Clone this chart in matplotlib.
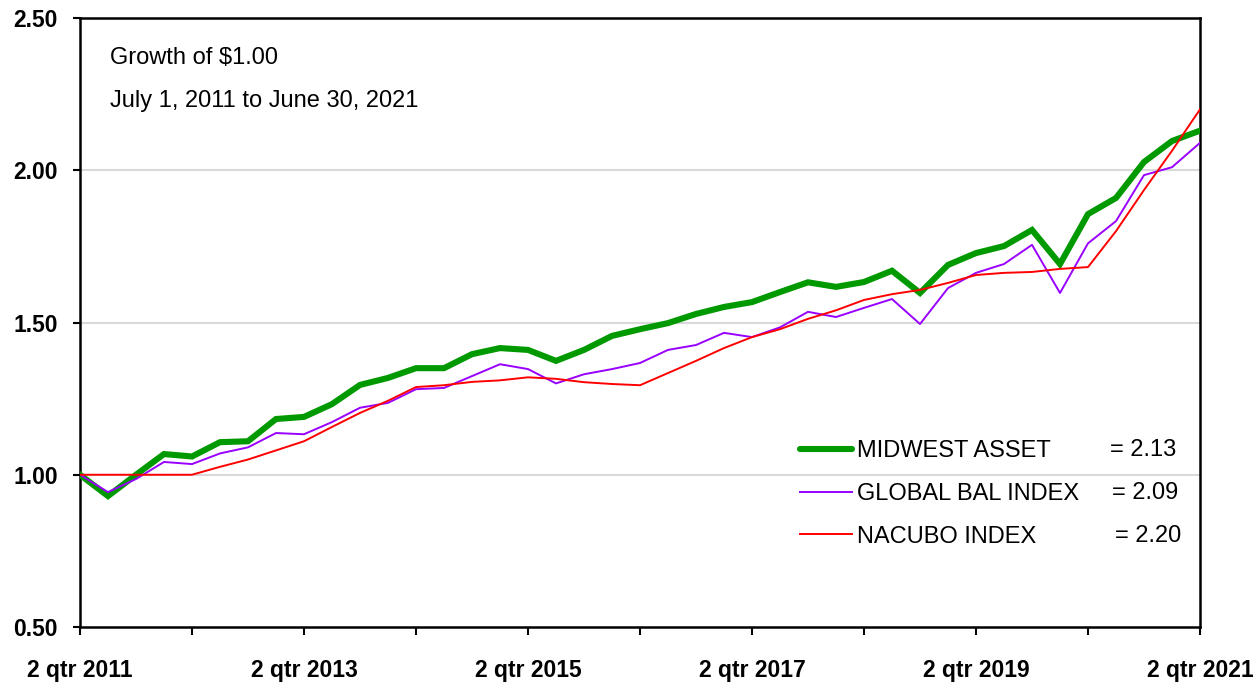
import matplotlib
matplotlib.use("Agg")
import matplotlib.pyplot as plt
from matplotlib.lines import Line2D

# ---- data ----
tick_labels = ["2 qtr 2011", "", "2 qtr 2013", "", "2 qtr 2015", "",
               "2 qtr 2017", "", "2 qtr 2019", "", "2 qtr 2021"]
series_names = ["MIDWEST ASSET", "GLOBAL BAL INDEX", "NACUBO INDEX"]

midwest = [1.00, 0.93, 1.00, 1.068, 1.06, 1.107, 1.11, 1.183, 1.19, 1.232,
           1.295, 1.318, 1.35, 1.35, 1.396, 1.416, 1.41, 1.374, 1.41, 1.456,
           1.478, 1.498, 1.528, 1.551, 1.567, 1.60, 1.632, 1.617, 1.633, 1.67,
           1.597, 1.689, 1.728, 1.751, 1.804, 1.692, 1.856, 1.909, 2.027, 2.096,
           2.13]
global_bal = [1.00, 0.943, 0.986, 1.042, 1.035, 1.07, 1.09, 1.137, 1.133, 1.173,
              1.22, 1.236, 1.281, 1.285, 1.324, 1.363, 1.347, 1.30, 1.33, 1.347,
              1.367, 1.41, 1.426, 1.466, 1.452, 1.484, 1.535, 1.518, 1.548, 1.577,
              1.495, 1.613, 1.663, 1.692, 1.755, 1.597, 1.76, 1.833, 1.984, 2.01,
              2.09]
nacubo = [1.00, 1.00, 1.00, 1.00, 1.00, 1.026, 1.05, 1.08, 1.11, 1.157,
          1.203, 1.243, 1.288, 1.294, 1.305, 1.31, 1.32, 1.315, 1.304, 1.298,
          1.294, 1.334, 1.374, 1.416, 1.452, 1.478, 1.512, 1.54, 1.574, 1.593,
          1.607, 1.63, 1.656, 1.663, 1.666, 1.676, 1.682, 1.80, 1.935, 2.064,
          2.20]
final_values = [2.13, 2.09, 2.20]

green = "#009900"
purple = "#9900FF"
red = "#FF0000"

fig = plt.figure(figsize=(12.6, 6.86), dpi=100)
ax = fig.add_axes([80/1260, 59/686, 1120/1260, 609/686])

x = list(range(len(midwest)))
ax.plot(x, midwest, color=green, lw=4.4, solid_joinstyle="miter", zorder=3)
ax.plot(x, global_bal, color=purple, lw=1.4, zorder=4)
ax.plot(x, nacubo, color=red, lw=1.4, zorder=5)

ax.set_xlim(0, len(midwest) - 1)
ax.set_ylim(0.5, 2.5)
ax.set_yticks([0.5, 1.0, 1.5, 2.0, 2.5])
ax.set_yticklabels([f"{v:.2f}" for v in [0.5, 1.0, 1.5, 2.0, 2.5]],
                   fontsize=16.5, fontweight="bold", family="Liberation Sans")
ax.set_xticks(list(range(0, len(midwest), 4)))
ax.set_xticklabels(tick_labels, fontsize=16.5, fontweight="bold",
                   family="Liberation Sans")
ax.tick_params(axis="y", direction="out", length=5, width=1.5, pad=11)
ax.tick_params(axis="x", direction="out", length=6, width=1.5, pad=17)

for v in [1.0, 1.5, 2.0]:
    ax.axhline(v, color="#d9d9d9", lw=1.5, zorder=1)

for s in ax.spines.values():
    s.set_linewidth(1.8)
    s.set_color("black")

ax.text(0.0268, 0.934, "Growth of \\$1.00", transform=ax.transAxes,
        fontsize=17, family="Liberation Sans", va="center", ha="left")
ax.text(0.0268, 0.863, "July 1, 2011 to June 30, 2021", transform=ax.transAxes,
        fontsize=17, family="Liberation Sans", va="center", ha="left")

handles = [Line2D([], [], color=green, lw=4.4, solid_capstyle="round"),
           Line2D([], [], color=purple, lw=1.4),
           Line2D([], [], color=red, lw=1.4)]
leg = ax.legend(handles, series_names, loc="upper left",
                bbox_to_anchor=((800-80)/1120, (627-440)/609),
                frameon=False, borderaxespad=0, borderpad=0,
                handlelength=2.2, handletextpad=0.2, labelspacing=0.88,
                prop={"family": "Liberation Sans", "size": 17})
leg.set_zorder(6)

ys = [(627-450)/609, (627-493)/609, (627-536)/609]
xs = [(1110-80)/1120, (1112-80)/1120, (1115-80)/1120]
for xv, yv, val in zip(xs, ys, final_values):
    ax.text(xv, yv, f"= {val:.2f}", transform=ax.transAxes, fontsize=17,
            family="Liberation Sans", va="center", ha="left", zorder=6)

fig.savefig("out.png", dpi=100)
